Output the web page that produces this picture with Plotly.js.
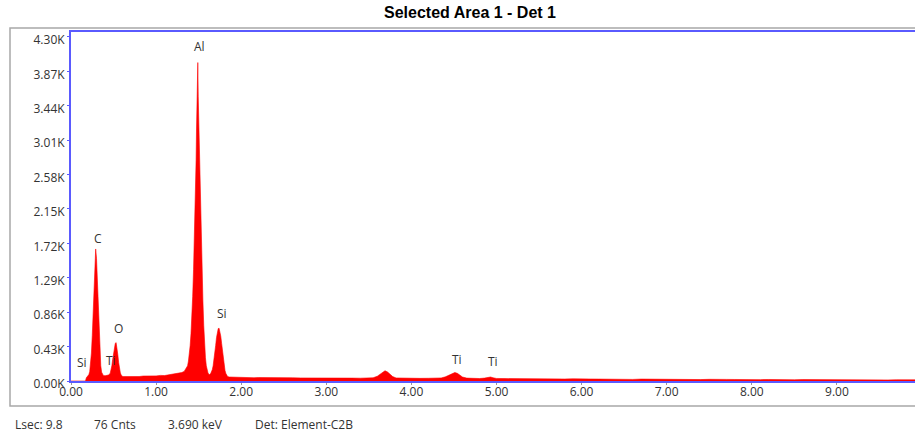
<!DOCTYPE html>
<html>
<head>
<meta charset="utf-8">
<script src="https://cdn.plot.ly/plotly-3.0.1.min.js"></script>
<style>
html,body{margin:0;padding:0;overflow:hidden;background:#fff;width:915px;height:439px;}
#chart{width:960px;height:439px;}
</style>
</head>
<body>
<div id="chart"></div>
<script>
// Energy (keV) and counts
const energy = [
0.00,0.10,0.17,0.18,0.19,0.20,0.21,0.22,0.23,0.24,0.25,0.26,0.27,0.28,0.29,0.30,0.31,0.32,0.33,0.34,0.35,0.36,0.37,0.38,0.40,0.42,0.44,0.46,
0.47,0.48,0.49,0.50,0.51,0.52,0.53,0.54,0.55,0.56,0.57,0.58,0.59,0.60,0.62,
0.65,0.70,0.75,0.80,0.85,0.90,0.95,1.00,1.05,1.10,1.15,1.20,1.25,1.30,1.33,1.35,
1.37,1.38,1.39,1.40,1.41,1.42,1.43,1.44,1.45,1.46,1.47,1.475,1.48,1.485,1.49,1.495,1.50,1.51,1.52,1.53,1.54,1.55,1.56,1.57,1.58,1.59,1.60,1.61,1.62,1.63,1.64,1.65,
1.66,1.67,1.68,1.69,1.70,1.71,1.72,1.73,1.74,1.75,1.76,1.77,1.78,1.79,1.80,1.81,1.82,1.83,1.84,1.86,1.90,
1.95,2.00,2.05,2.10,2.15,2.20,2.30,2.40,2.50,2.60,2.70,2.80,2.90,3.00,3.10,3.20,3.30,3.40,3.50,3.55,3.60,3.63,3.66,3.69,3.72,3.75,3.78,3.82,3.90,
4.00,4.10,4.20,4.30,4.35,4.40,4.44,4.48,4.51,4.54,4.57,4.60,4.65,4.70,4.80,4.86,4.90,4.93,4.96,5.00,
5.10,5.20,5.30,5.40,5.50,5.60,5.70,5.80,5.90,6.00,6.10,6.20,6.30,6.40,6.50,6.60,6.70,6.80,6.90,7.00,
7.10,7.20,7.30,7.40,7.50,7.60,7.70,7.80,7.90,8.00,8.10,8.20,8.30,8.40,8.50,8.60,8.70,8.80,8.90,9.00,
9.10,9.20,9.30,9.40,9.50,9.60,9.70,9.80,9.90,10.00
];
const counts = [
0,0,0,40,55,60,80,120,210,350,570,860,1190,1480,1650,1530,1210,870,570,340,190,110,80,70,65,70,75,95,
130,190,270,350,425,470,480,425,330,230,150,100,75,60,55,
55,52,58,56,62,60,66,64,70,68,78,85,95,105,120,150,
190,250,330,440,590,790,1060,1390,1790,2260,2760,3150,3450,3600,3980,3560,3300,2850,2350,1850,1400,1000,690,450,290,190,135,100,85,80,90,110,
140,190,260,345,445,545,620,655,660,615,560,470,370,270,190,130,95,70,55,50,48,
44,45,42,44,41,43,40,41,39,40,38,39,37,38,36,37,36,35,36,40,60,85,112,128,112,82,55,38,35,
35,33,34,33,38,52,75,98,106,96,72,50,36,33,31,36,46,50,40,32,
30,28,26,29,27,24,26,25,27,22,25,24,21,25,23,20,24,22,19,23,
20,22,19,18,21,17,20,19,16,20,17,19,16,18,15,18,17,14,17,16,
15,17,14,16,15,13,15,14,13,14
];

// Peak labels
const peakLabels = ["Al","C","O","Si","Ti","Si","Ti","Ti"];
const peakLabelE = [1.51,0.32,0.556,0.126,0.466,1.77,4.54,4.96];
const peakLabelC = [4175,1775,659,229,262,846,271,241];

// Axis ticks
const yTickVals = [0,430,860,1290,1720,2150,2580,3010,3440,3870,4300];
const yTickText = ["0.00K","0.43K","0.86K","1.29K","1.72K","2.15K","2.58K","3.01K","3.44K","3.87K","4.30K"];
const xTickVals = [0,1,2,3,4,5,6,7,8,9];
const xTickText = ["0.00","1.00","2.00","3.00","4.00","5.00","6.00","7.00","8.00","9.00"];

// Status line
const statusText = ["Lsec: 9.8","76 Cnts","3.690 keV","Det: Element-C2B"];

const W = 960, H = 439;
const L = 71, T = 32, B = 381, R = 922;
const pw = R - L, ph = B - T;
const px2paperX = p => (p - L) / pw;
const px2paperY = p => (B - p) / ph;

const trace = {
  x: energy, y: counts, type: 'scatter', mode: 'lines',
  fill: 'tozeroy', fillcolor: '#ff0000',
  line: {color: '#ff0000', width: 0.6},
  hoverinfo: 'x+y'
};

const annotations = peakLabels.map((t, i) => ({
  x: peakLabelE[i], y: peakLabelC[i], xref: 'x', yref: 'y',
  text: t, showarrow: false, xanchor: 'center', yanchor: 'middle',
  font: {family: 'Open Sans, sans-serif', size: 12, color: '#333'}
}));
const statusX = [13, 92, 166, 253];
statusText.forEach((t, i) => annotations.push({
  x: px2paperX(statusX[i]), y: px2paperY(424), xref: 'paper', yref: 'paper',
  text: t, showarrow: false, xanchor: 'left', yanchor: 'middle',
  font: {family: 'Open Sans, sans-serif', size: 12, color: '#333'}
}));

const layout = {
  width: W, height: H,
  margin: {l: L, r: W - R, t: T, b: H - B, pad: 0},
  paper_bgcolor: '#fff', plot_bgcolor: '#fff',
  showlegend: false,
  title: {
    text: 'Selected Area 1 - Det 1',
    xref: 'container', yref: 'container',
    x: 470 / W, y: 1 - 12 / H, xanchor: 'center', yanchor: 'middle',
    font: {family: 'Liberation Sans, Arial, sans-serif', size: 16, color: '#000', weight: 'bold'}
  },
  xaxis: {
    range: [0, 10.0], tickvals: xTickVals, ticktext: xTickText,
    showgrid: false, zeroline: false,
    showline: true, mirror: true, linecolor: '#5a5aff', linewidth: 2,
    ticks: 'outside', ticklen: 2, tickcolor: '#999', tickwidth: 1,
    ticklabelstandoff: -3,
    tickfont: {family: 'Open Sans, sans-serif', size: 12, color: '#333'},
    fixedrange: true
  },
  yaxis: {
    range: [0, 4362], tickvals: yTickVals, ticktext: yTickText,
    showgrid: false, zeroline: false,
    showline: true, mirror: true, linecolor: '#5a5aff', linewidth: 2,
    ticks: 'outside', ticklen: 2, tickcolor: '#5a5aff', tickwidth: 1,
    ticklabelshift: 3, ticklabelstandoff: 0,
    tickfont: {family: 'Open Sans, sans-serif', size: 12, color: '#333'},
    fixedrange: true
  },
  shapes: [{
    type: 'rect', xref: 'paper', yref: 'paper',
    x0: px2paperX(10), x1: px2paperX(1000), y0: px2paperY(406), y1: px2paperY(28),
    line: {color: '#a8a8a8', width: 1.5}, layer: 'below'
  }],
  annotations: annotations
};

Plotly.newPlot('chart', [trace], layout, {displayModeBar: false, staticPlot: true});
</script>
</body>
</html>
